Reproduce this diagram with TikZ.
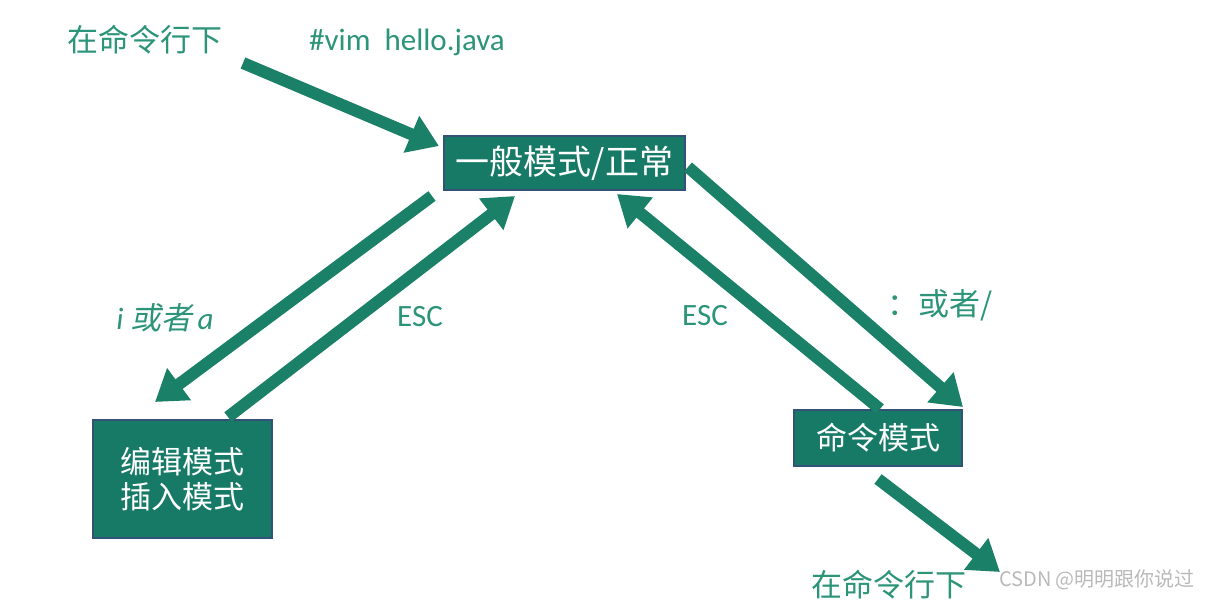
\documentclass[tikz,border=0pt]{standalone}
\usepackage{fontspec}
\setmainfont{Carlito}
\newfontfamily\cjk{Noto Sans CJK SC}
\newfontfamily\cjkslant[FakeSlant=0.2]{Noto Sans CJK SC}
\usetikzlibrary{arrows.meta}
\definecolor{boxgreen}{RGB}{22,122,102}
\definecolor{boxline}{RGB}{52,82,118}
\definecolor{arrowgreen}{RGB}{26,128,104}
\definecolor{textgreen}{RGB}{44,148,120}

\begin{document}
\begin{tikzpicture}[x=0.5pt, y=-0.5pt,
  mode/.style={draw=boxline, line width=1pt, fill=boxgreen, text=white,
               inner sep=0pt, font=\cjk\fontsize{15.5}{17.5}\selectfont},
  big arrow/.style={draw=arrowgreen, fill=arrowgreen, line width=6pt,
               -{Triangle[length=15pt, width=19pt]}},
  lbl/.style={text=textgreen, inner sep=0pt, font=\fontsize{15.5}{18}\selectfont}]

\useasboundingbox (0,0) rectangle (1208,601);

\node[mode, font=\cjk\fontsize{17}{20}\selectfont,
            minimum width=120.5pt, minimum height=27pt](1) at (564.5,163) {一般模式/正常};
\node[mode, align=center,
            minimum width=89.5pt, minimum height=59pt](2) at (182.5,479) {编辑模式\\插入模式};
\node[mode, minimum width=84pt, minimum height=28pt](3) at (878,438) {命令模式};

\node[lbl, font=\cjk\fontsize{15.5}{18}\selectfont](top) at (145,40) {在命令行下};
\node[lbl](vim) at (407,42) {\#vim\ \ hello.java};
\node[lbl](ia) at (165,318) {\itshape i {\cjkslant 或者}\,a};
\node[lbl](esc1) at (420,317) {ESC};
\node[lbl](esc2) at (705,316) {ESC};
\node[lbl, font=\cjk\fontsize{15.5}{18}\selectfont](colon) at (940,305) {：或者/};
\node[lbl, font=\cjk\fontsize{15.5}{18}\selectfont](bottom) at (889,585) {在命令行下};
\node[text=gray!55, inner sep=0pt, font=\cjk\fontsize{10}{12}\selectfont](mark) at (1097,580) {CSDN @明明跟你说过};

\coordinate (start) at (243,63);
\coordinate (end) at (1000,572);

\draw[big arrow] (start) -- ([shift={(-4,-17)}]1.west);
\draw[big arrow] ([shift={(-11,5)}]1.south west) -- ([shift={(-27.5,-17)}]2.north);
\draw[big arrow] ([shift={(45.5,-2)}]2.north) -- ([shift={(-49.5,5)}]1.south);
\draw[big arrow] ([shift={(2,4)}]1.east) -- ([shift={(0,-2)}]3.north east);
\draw[big arrow] ([shift={(2,0)}]3.north) -- ([shift={(52.5,3)}]1.south);
\draw[big arrow] ([shift={(0,12)}]3.south) -- (end);

\end{tikzpicture}
\end{document}
